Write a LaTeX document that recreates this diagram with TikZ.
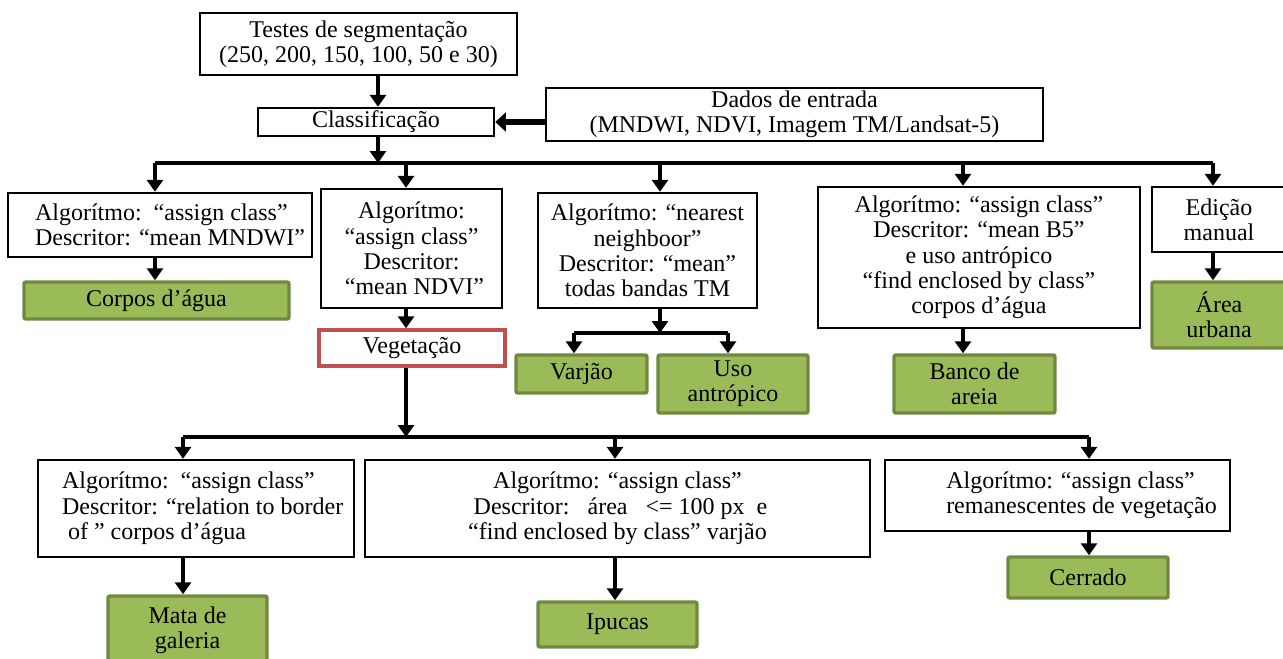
\documentclass[tikz,border=0pt]{standalone}
\usepackage{fontspec}
\setmainfont{Liberation Serif}
\usetikzlibrary{arrows.meta}
\definecolor{grn}{HTML}{9BBB59}
\definecolor{grnd}{HTML}{71893F}
\definecolor{redb}{HTML}{C0504D}
\tikzset{
 box/.style={draw=black, line width=1.8pt, fill=white, inner sep=0pt, align=center, font=\fontsize{18}{19}\selectfont},
 gbox/.style={box, draw=grnd, fill=grn, line width=2.6pt, rounded corners=1.5pt},
 rbox/.style={box, draw=redb, line width=2.6pt},
 arr/.style={line width=3pt, -{Triangle[width=12pt,length=9pt]}},
 fatarr/.style={line width=5pt, -{Triangle[width=14pt,length=8pt]}},
 bus/.style={line width=3pt},
 sz/.style 2 args={minimum width=#1*0.75pt, minimum height=#2*0.75pt},
}
\begin{document}
\begin{tikzpicture}[x=0.75pt,y=-0.75pt]
\useasboundingbox (0,0) rectangle (1283,658);
\clip (0,0) rectangle (1283,658);
% nodes
\node[box, sz={317}{62}] (seg) at (358.5,44) {Testes de segmentação\\(250, 200, 150, 100, 50 e 30)};
\node[box, sz={236}{28}] (cls) at (376,122) {Classificação};
\node[box, sz={497}{53}] (dad) at (794.5,114.5) {Dados de entrada\\(MNDWI, NDVI, Imagem TM/Landsat-5)};
\node[box, sz={304}{64}, align=left] (a1) at (160,225) {\hspace*{15pt}Algorítmo:\ \ “assign class”\\\hspace*{15pt}Descritor: “mean MNDWI”};
\node[gbox, sz={265}{37}] (g1) at (156.5,300.5) {Corpos d’água};
\node[box, sz={181}{119}] (a2) at (411.5,248.5) {Algorítmo:\\“assign class”\\Descritor:\\\ “mean NDVI”};
\node[rbox, sz={186}{36}] (veg) at (412,348) {Vegetação};
\node[box, sz={219}{115}] (a3) at (647.5,250.5) {Algorítmo: “nearest\\neighboor”\\Descritor: “mean”\\todas bandas TM};
\node[gbox, sz={131}{38}] (g2) at (581.5,374) {Varjão};
\node[gbox, sz={150}{58}] (g3) at (733,384) {Uso\\antrópico};
\node[box, sz={322}{141}] (a4) at (979,257.5) {Algorítmo: “assign class”\\Descritor: “mean B5”\\e uso antrópico\\“find enclosed by class”\\corpos d’água};
\node[gbox, sz={161}{58}] (g4) at (974.5,384) {Banco de\\areia};
\node[box, sz={134}{65}] (a5) at (1219,219.5) {Edição\\manual};
\node[gbox, sz={134}{66}] (g5) at (1219,315) {Área\\urbana};
\node[box, sz={316}{97}, align=left] (a6) at (196,508.5) {\hspace*{10pt}Algorítmo:\ \ “assign class”\\\hspace*{10pt}Descritor: “relation to border\\\hspace*{10pt}\ of ” corpos d’água};
\node[box, sz={505}{97}] (a7) at (617.5,508.5) {Algorítmo: “assign class”\\\ Descritor:\ \ \ área\ \ \ <= 100 px\ \ e\\“find enclosed by class” varjão};
\node[box, sz={345}{71}, align=left] (a8) at (1057.5,495.5) {\hspace*{36pt}Algorítmo: “assign class”\\\hspace*{36pt}remanescentes de vegetação};
\node[gbox, sz={159}{68}] (g6) at (187.5,630) {Mata de\\galeria};
\node[gbox, sz={159}{45}] (g7) at (617.5,624.5) {Ipucas};
\node[gbox, sz={160}{41}] (g8) at (1088,577.5) {Cerrado};
% junction coordinates
\coordinate (j1) at (378,163);
\coordinate (t1) at (155,163);
\coordinate (t2) at (406,163);
\coordinate (t3) at (660,163);
\coordinate (t4) at (963,163);
\coordinate (t5) at (1213,163);
\coordinate (j3) at (660,333);
\coordinate (t6) at (574,333);
\coordinate (t7) at (728,333);
\coordinate (j4) at (406,437);
\coordinate (t8) at (183,437);
\coordinate (t9) at (615,437);
\coordinate (t10) at (1089,437);
% connectors
\draw[arr] (j1 |- seg.south) -- (j1 |- cls.north);
\draw[fatarr] (dad.west |- cls.east) -- (cls.east);
\draw[bus] (t1) -- (t5);
\draw[arr] (j1 |- cls.south) -- (j1);
\draw[arr] (t1) -- (t1 |- a1.north);
\draw[arr] (t2) -- (t2 |- a2.north);
\draw[arr] (t3) -- (t3 |- a3.north);
\draw[arr] (t4) -- (t4 |- a4.north);
\draw[arr] (t5) -- (t5 |- a5.north);
\draw[arr] (t1 |- a1.south) -- (t1 |- g1.north);
\draw[arr] (t2 |- a2.south) -- (t2 |- veg.north);
\draw[arr] (j3 |- a3.south) -- (j3);
\draw[bus] (t6) -- (t7);
\draw[arr] (t6) -- (t6 |- g2.north);
\draw[arr] (t7) -- (t7 |- g3.north);
\draw[arr] (t4 |- a4.south) -- (t4 |- g4.north);
\draw[arr] (t5 |- a5.south) -- (t5 |- g5.north);
\draw[arr] (j4 |- veg.south) -- (j4);
\draw[bus] (t8) -- (t10);
\draw[arr] (t8) -- (t8 |- a6.north);
\draw[arr] (t9) -- (t9 |- a7.north);
\draw[arr] (t10) -- (t10 |- a8.north);
\draw[arr] (t8 |- a6.south) -- (t8 |- g6.north);
\draw[arr] (t9 |- a7.south) -- (t9 |- g7.north);
\draw[arr] (t10 |- a8.south) -- (t10 |- g8.north);
\end{tikzpicture}
\end{document}
